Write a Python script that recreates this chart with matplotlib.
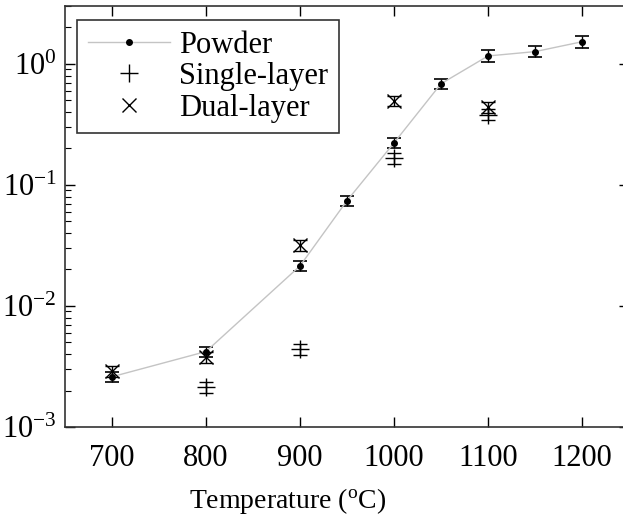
import numpy as np
import matplotlib
matplotlib.use("Agg")
import matplotlib.pyplot as plt
from matplotlib.ticker import LogLocator, NullFormatter, FixedLocator

plt.rcParams['font.family'] = ['Liberation Serif', 'DejaVu Serif']
plt.rcParams['mathtext.fontset'] = 'custom'
plt.rcParams['mathtext.rm'] = 'Liberation Serif'
plt.rcParams['mathtext.it'] = 'Liberation Serif:italic'

# powder data
powder_t = [700, 800, 900, 950, 1000, 1050, 1100, 1150, 1200]
powder_y = [0.0026, 0.0042, 0.0214, 0.074, 0.222, 0.684, 1.16, 1.26, 1.52]
powder_err = [0.00025, 0.0004, 0.002, 0.0075, 0.022, 0.07, 0.13, 0.13, 0.18]

# single-layer
single_t = [800, 900, 1000, 1100]
single_y = [0.00214, 0.0044, 0.167, 0.38]
single_err = [0.00022, 0.00045, 0.017, 0.04]

# dual-layer
dual_t = [700, 800, 900, 1000, 1100]
dual_y = [0.0029, 0.0038, 0.0319, 0.494, 0.44]
dual_err = [0.0003, 0.0004, 0.0034, 0.05, 0.046]

fig = plt.figure(figsize=(6.23, 5.19), dpi=100)
ax = fig.add_axes([65 / 623, 1 - 427 / 519, (629 - 65) / 623, (427 - 6) / 519])

ax.errorbar(powder_t, powder_y, yerr=powder_err, color='#c4c4c4', lw=1.0,
            marker='o', ms=4, mfc='black', mec='black',
            ecolor='black', elinewidth=1.0, capsize=5, capthick=1.2, label='Powder')
ax.errorbar(single_t, single_y, yerr=single_err, fmt='+', color='black', ms=13,
            mew=1.0, elinewidth=1.0, capsize=5, capthick=1.0, label='Single-layer')
ax.errorbar(dual_t, dual_y, yerr=dual_err, fmt='x', color='black', ms=10,
            mew=1.0, elinewidth=1.0, capsize=5, capthick=1.0, label='Dual-layer')

ax.set_yscale('log')
ax.set_xlim(650, 1250)
ax.set_ylim(1e-3, 3)
ax.xaxis.set_major_locator(FixedLocator([700, 800, 900, 1000, 1100, 1200]))
ax.yaxis.set_major_locator(LogLocator(base=10, numticks=10))
ax.yaxis.set_minor_locator(LogLocator(base=10, subs=np.arange(2, 10), numticks=10))
ax.yaxis.set_minor_formatter(NullFormatter())
ax.tick_params(which='both', direction='in', top=True, right=True, labelsize=22)
ax.tick_params(axis='x', pad=12)
ax.tick_params(axis='y', pad=6)
ax.tick_params(which='major', length=7, width=1)
ax.tick_params(which='minor', length=4, width=0.8)
for s in ax.spines.values():
    s.set_linewidth(1.2)
    s.set_color('#333333')

ax.set_xlabel('Temperature ($^\\mathrm{o}$C)', fontsize=20)
ax.xaxis.set_label_coords((288 - 65) / 564, -0.14)

handles, labels = ax.get_legend_handles_labels()
handles = [h[0] for h in handles]
leg = ax.legend(handles, labels, loc='upper left', fontsize=22, frameon=True,
                fancybox=False, edgecolor='black', handlelength=2.7,
                bbox_to_anchor=(12 / 564, 1 - 14 / 421),
                borderaxespad=0.0, labelspacing=0.08, handletextpad=0.3,
                borderpad=0.35)
leg.get_frame().set_linewidth(1.2)

fig.savefig('out.png', dpi=100)
